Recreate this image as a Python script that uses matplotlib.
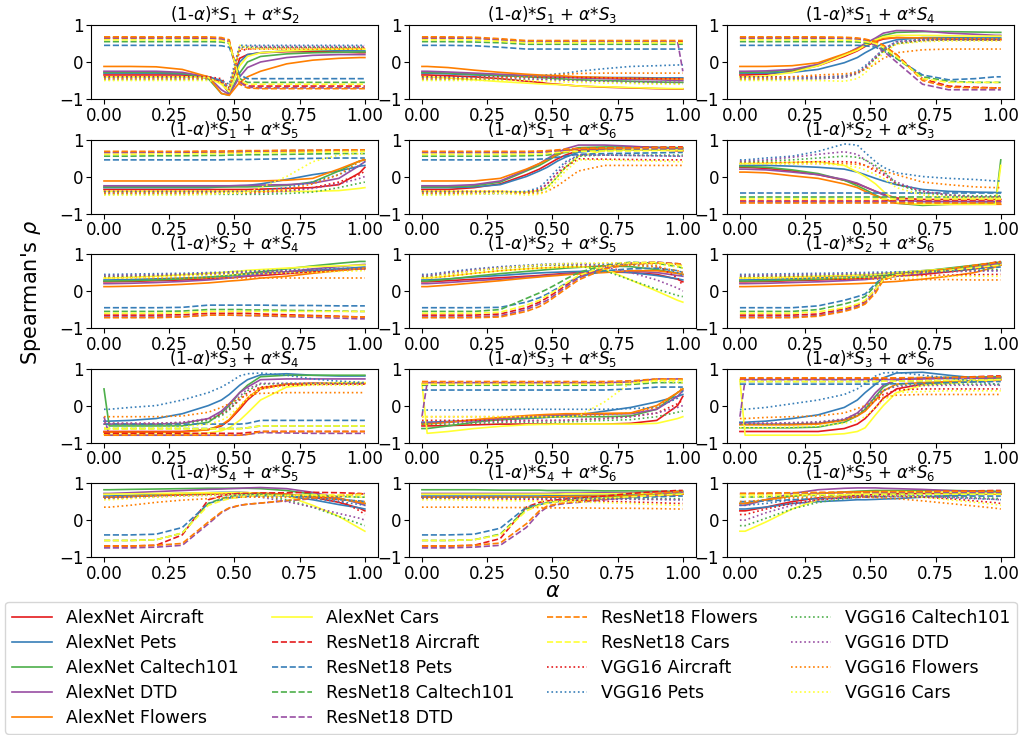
import numpy as np
import matplotlib.pyplot as plt

alpha = [0, 0.02, 0.1, 0.2, 0.3, 0.4, 0.45, 0.48, 0.52, 0.55, 0.6, 0.7, 0.8, 0.9, 0.98, 1.0]
models = ['AlexNet', 'ResNet18', 'VGG16']
datasets = ['Aircraft', 'Pets', 'Caltech101', 'DTD', 'Flowers', 'Cars']
pairs = [(1, 2), (1, 3), (1, 4), (1, 5), (1, 6), (2, 3), (2, 4), (2, 5),
         (2, 6), (3, 4), (3, 5), (3, 6), (4, 5), (4, 6), (5, 6)]

# Spearman's rho x100; rows: AlexNet x6, ResNet18 x6, VGG16 x6 (dataset order above)
s1_s2 = [
    [-35, -35, -35, -35, -35, -40, -55, -85, 10, 20, 25, 28, 28, 27, 25, 25],
    [-30, -30, -30, -30, -32, -40, -50, -85, 0, 20, 25, 30, 32, 31, 30, 30],
    [-28, -28, -28, -28, -30, -45, -85, -90, -30, 0, 15, 22, 25, 26, 27, 27],
    [-25, -25, -25, -25, -28, -40, -75, -88, -40, -15, 0, 12, 18, 20, 20, 20],
    [-12, -12, -12, -13, -20, -40, -85, -90, -55, -40, -25, -5, 5, 10, 12, 12],
    [-40, -40, -40, -40, -40, -42, -60, -80, -10, 15, 25, 30, 33, 35, 35, 35],
    [65, 65, 65, 65, 65, 64, 62, 55, -50, -65, -65, -65, -65, -65, -65, -65],
    [45, 45, 45, 45, 45, 45, 44, 40, -35, -45, -45, -45, -45, -45, -45, -45],
    [55, 55, 55, 55, 55, 55, 54, 50, -45, -55, -55, -55, -55, -55, -55, -55],
    [65, 65, 65, 65, 65, 65, 63, 55, -55, -68, -70, -70, -70, -70, -70, -70],
    [68, 68, 68, 68, 68, 68, 66, 60, -60, -70, -72, -72, -72, -72, -72, -72],
    [60, 60, 60, 60, 60, 60, 58, 52, -50, -60, -60, -60, -60, -60, -60, -60],
    [-40, -40, -40, -40, -40, -40, -45, -70, 30, 35, 38, 38, 38, 38, 38, 38],
    [-42, -42, -42, -42, -42, -45, -50, -60, 45, 45, 45, 45, 45, 45, 45, 45],
    [-48, -48, -48, -48, -48, -48, -50, -70, 40, 40, 40, 40, 40, 40, 40, 40],
    [-45, -45, -45, -45, -45, -45, -50, -75, 40, 42, 42, 42, 42, 42, 42, 42],
    [-45, -45, -45, -45, -45, -45, -55, -75, 35, 35, 35, 35, 35, 35, 35, 35],
    [-50, -50, -50, -50, -50, -50, -55, -80, 45, 40, 35, 35, 35, 35, 35, 35],
]
s1_s3 = [
    [-35, -35, -37, -40, -45, -52, -55, -58, -60, -62, -65, -68, -70, -72, -73, -73],
    [-30, -30, -32, -35, -37, -38, -39, -40, -40, -40, -41, -42, -42, -43, -43, -43],
    [-28, -28, -30, -33, -36, -40, -42, -43, -45, -46, -48, -50, -52, -54, -55, -55],
    [-25, -25, -27, -30, -33, -36, -38, -39, -40, -41, -43, -45, -47, -48, -50, -50],
    [-12, -12, -15, -22, -28, -33, -35, -36, -37, -38, -40, -42, -44, -45, -46, -46],
    [-40, -40, -43, -48, -53, -57, -59, -60, -61, -62, -65, -67, -69, -71, -72, -72],
    [65, 65, 65, 64, 60, 55, 55, 55, 55, 55, 55, 55, 55, 55, 55, 55],
    [45, 45, 45, 44, 40, 35, 35, 35, 35, 35, 35, 35, 35, 35, 35, 35],
    [55, 55, 55, 54, 52, 48, 48, 48, 48, 48, 48, 48, 48, 48, 48, 48],
    [65, 65, 65, 64, 60, 55, 55, 55, 55, 55, 55, 55, 55, 55, 55, -25],
    [68, 68, 68, 67, 63, 58, 58, 58, 58, 58, 58, 58, 58, 58, 58, 58],
    [60, 60, 60, 59, 56, 52, 52, 52, 52, 52, 52, 52, 52, 52, 52, 52],
    [-40, -40, -40, -40, -40, -41, -41, -42, -42, -42, -42, -43, -44, -45, -45, -45],
    [-42, -42, -42, -42, -42, -40, -38, -35, -32, -30, -25, -18, -12, -10, -8, -8],
    [-48, -48, -48, -48, -48, -48, -48, -48, -48, -49, -50, -52, -55, -57, -58, -58],
    [-45, -45, -45, -45, -45, -45, -46, -47, -48, -49, -50, -52, -53, -54, -55, -55],
    [-45, -45, -45, -45, -43, -40, -38, -36, -34, -33, -31, -30, -30, -30, -30, -30],
    [-50, -50, -50, -50, -50, -50, -51, -52, -53, -54, -55, -57, -58, -60, -60, -60],
]
s1_s4 = [
    [-35, -35, -33, -25, -10, 15, 30, 42, 55, 62, 66, 64, 62, 61, 60, 60],
    [-30, -30, -30, -28, -20, -2, 12, 25, 40, 50, 60, 66, 66, 65, 65, 65],
    [-28, -28, -27, -22, -8, 20, 35, 48, 62, 72, 80, 82, 82, 81, 80, 80],
    [-25, -25, -24, -20, -6, 20, 38, 50, 65, 78, 85, 84, 78, 75, 72, 72],
    [-12, -12, -12, -10, -2, 22, 35, 45, 58, 64, 66, 65, 63, 63, 62, 62],
    [-40, -40, -38, -28, -10, 18, 32, 45, 60, 68, 72, 72, 71, 70, 70, 70],
    [65, 65, 65, 65, 65, 64, 62, 60, 55, 45, 20, -45, -65, -68, -70, -70],
    [45, 45, 45, 45, 45, 45, 45, 44, 40, 30, 10, -35, -48, -45, -40, -40],
    [55, 55, 55, 55, 55, 55, 54, 52, 45, 35, 10, -40, -52, -55, -55, -55],
    [65, 65, 65, 65, 65, 64, 62, 58, 45, 30, 0, -60, -75, -75, -75, -75],
    [68, 68, 68, 68, 68, 67, 65, 62, 55, 45, 20, -50, -68, -70, -70, -70],
    [60, 60, 60, 60, 60, 59, 58, 55, 50, 40, 15, -45, -55, -55, -55, -55],
    [-40, -40, -40, -40, -40, -38, -30, -15, 10, 30, 50, 58, 60, 60, 60, 60],
    [-42, -42, -42, -42, -42, -38, -25, -10, 15, 35, 55, 62, 63, 63, 63, 63],
    [-48, -48, -48, -46, -45, -42, -32, -18, 10, 30, 50, 58, 60, 60, 60, 60],
    [-45, -45, -45, -45, -45, -42, -30, -15, 15, 35, 55, 60, 60, 60, 60, 60],
    [-45, -45, -45, -40, -35, -32, -28, -20, -5, 10, 25, 33, 35, 35, 35, 35],
    [-50, -50, -50, -50, -50, -52, -45, -30, 0, 25, 48, 55, 57, 57, 57, 57],
]
s1_s5 = [
    [-35, -35, -35, -35, -35, -35, -35, -35, -35, -35, -34, -32, -30, -22, 10, 25],
    [-30, -30, -30, -30, -30, -30, -28, -27, -25, -24, -20, -8, 5, 15, 28, 30],
    [-28, -28, -28, -28, -28, -28, -28, -28, -28, -28, -27, -24, -15, 15, 42, 45],
    [-25, -25, -25, -25, -25, -25, -25, -25, -24, -24, -23, -22, -18, -5, 30, 40],
    [-12, -12, -12, -12, -12, -12, -12, -12, -12, -12, -12, -10, -5, 20, 42, 45],
    [-40, -40, -40, -40, -40, -40, -40, -40, -40, -40, -40, -40, -40, -38, -32, -30],
    [65, 65, 65, 65, 65, 65, 65, 65, 65, 66, 66, 67, 68, 69, 70, 70],
    [45, 45, 45, 45, 45, 45, 45, 46, 46, 46, 47, 48, 49, 50, 50, 50],
    [55, 55, 55, 56, 56, 57, 57, 58, 58, 59, 59, 60, 61, 62, 62, 62],
    [65, 65, 65, 66, 66, 67, 67, 68, 68, 69, 69, 70, 71, 72, 72, 72],
    [68, 68, 68, 68, 68, 69, 69, 69, 70, 70, 70, 71, 71, 72, 72, 72],
    [60, 60, 60, 61, 61, 62, 62, 63, 63, 64, 64, 65, 66, 67, 68, 68],
    [-40, -40, -40, -40, -40, -40, -40, -40, -40, -40, -40, -38, -30, -15, 5, 15],
    [-42, -42, -42, -42, -42, -42, -42, -42, -42, -40, -38, -30, -15, 5, 30, 40],
    [-48, -48, -48, -48, -48, -48, -48, -48, -48, -48, -48, -46, -42, -30, -18, -15],
    [-45, -45, -45, -45, -45, -45, -45, -45, -45, -45, -44, -40, -32, -20, -5, 0],
    [-45, -45, -45, -45, -45, -45, -45, -45, -45, -44, -42, -35, -20, 5, 40, 50],
    [-50, -50, -50, -50, -50, -48, -46, -45, -45, -42, -30, 0, 40, 58, 62, 62],
]
s1_s6 = [
    [-35, -35, -35, -30, -20, 5, 20, 32, 48, 58, 70, 74, 73, 72, 70, 70],
    [-30, -30, -30, -28, -22, 0, 15, 25, 42, 52, 66, 72, 72, 72, 72, 72],
    [-28, -28, -28, -25, -15, 15, 30, 42, 58, 68, 78, 80, 80, 79, 78, 78],
    [-25, -25, -25, -22, -12, 18, 35, 48, 65, 75, 85, 85, 82, 78, 75, 75],
    [-12, -12, -12, -12, -5, 20, 35, 45, 60, 68, 75, 75, 73, 72, 70, 70],
    [-40, -40, -40, -40, -40, -42, -38, -30, 0, 25, 55, 70, 72, 72, 72, 72],
    [65, 65, 65, 65, 65, 65, 66, 67, 70, 72, 75, 77, 78, 79, 80, 80],
    [45, 45, 45, 45, 45, 46, 47, 48, 52, 55, 60, 62, 63, 64, 65, 65],
    [55, 55, 55, 55, 55, 56, 57, 58, 62, 65, 68, 70, 71, 72, 72, 72],
    [65, 65, 65, 65, 65, 65, 66, 67, 70, 72, 75, 75, 75, 75, 75, 75],
    [68, 68, 68, 68, 68, 68, 69, 70, 72, 74, 76, 77, 77, 78, 78, 78],
    [60, 60, 60, 60, 60, 60, 61, 62, 65, 67, 68, 69, 69, 70, 70, 70],
    [-40, -40, -40, -40, -40, -42, -35, -20, 10, 25, 48, 47, 46, 45, 45, 45],
    [-42, -42, -42, -42, -42, -40, -30, -10, 20, 40, 58, 58, 57, 56, 55, 55],
    [-48, -48, -48, -47, -46, -45, -40, -30, 0, 25, 55, 58, 58, 58, 58, 58],
    [-45, -45, -45, -45, -45, -44, -38, -20, 10, 35, 58, 58, 57, 56, 55, 55],
    [-45, -45, -45, -45, -45, -45, -45, -40, -25, -10, 15, 30, 30, 30, 30, 30],
    [-50, -50, -50, -48, -45, -50, -48, -40, -10, 15, 45, 45, 43, 42, 40, 40],
]
s2_s3 = [
    [25, 25, 22, 15, 5, -10, -20, -28, -40, -48, -58, -62, -62, -62, -62, -62],
    [30, 30, 30, 28, 25, 20, 12, 5, -5, -12, -22, -35, -40, -42, -43, -43],
    [27, 27, 25, 18, 8, -10, -25, -35, -50, -60, -72, -78, -75, -73, -72, 45],
    [20, 20, 18, 12, 5, -8, -18, -28, -40, -50, -62, -68, -68, -68, -68, -68],
    [12, 12, 10, 2, -5, -20, -30, -40, -52, -60, -72, -75, -75, -75, -75, -75],
    [35, 35, 36, 38, 40, 30, 12, 0, -20, -40, -70, -75, -75, -75, -75, 30],
    [-65, -65, -65, -65, -65, -65, -65, -65, -65, -65, -65, -65, -65, -65, -65, -65],
    [-45, -45, -45, -45, -45, -45, -45, -45, -45, -45, -45, -45, -45, -45, -45, -45],
    [-55, -55, -55, -55, -55, -55, -55, -55, -55, -55, -55, -55, -55, -55, -55, -55],
    [-70, -70, -70, -70, -70, -70, -70, -70, -70, -70, -70, -70, -70, -70, -70, -70],
    [-72, -72, -72, -72, -72, -72, -72, -72, -72, -72, -72, -72, -72, -72, -72, -72],
    [-60, -60, -60, -60, -60, -60, -60, -60, -60, -60, -60, -60, -60, -60, -60, -60],
    [38, 38, 38, 38, 40, 40, 38, 30, 15, 5, -20, -40, -50, -55, -55, -55],
    [45, 45, 50, 55, 68, 88, 85, 65, 40, 25, 10, 0, -5, -8, -12, -12],
    [40, 40, 42, 45, 50, 55, 52, 45, 30, 15, -20, -45, -50, -52, -52, -52],
    [42, 42, 45, 52, 60, 67, 60, 45, 25, 10, -15, -40, -50, -55, -55, -55],
    [35, 35, 35, 35, 35, 35, 33, 30, 20, 15, 5, -15, -22, -28, -30, -30],
    [35, 35, 35, 35, 35, 30, 25, 18, 5, -5, -30, -50, -55, -58, -58, -58],
]
s2_s4 = [
    [25, 25, 26, 28, 30, 33, 35, 36, 38, 40, 42, 47, 52, 56, 60, 60],
    [30, 30, 31, 33, 35, 38, 40, 41, 43, 45, 48, 52, 56, 60, 64, 65],
    [27, 27, 28, 30, 33, 37, 40, 42, 45, 48, 52, 60, 68, 75, 80, 80],
    [20, 20, 21, 23, 26, 30, 33, 35, 38, 41, 45, 52, 60, 66, 71, 72],
    [12, 12, 13, 15, 18, 22, 25, 27, 29, 31, 35, 40, 48, 55, 61, 62],
    [35, 35, 37, 40, 44, 48, 50, 52, 54, 56, 58, 62, 66, 68, 70, 70],
    [-65, -65, -65, -65, -64, -60, -60, -60, -60, -60, -62, -64, -66, -68, -70, -70],
    [-45, -45, -45, -45, -44, -38, -38, -38, -38, -38, -38, -39, -39, -40, -40, -40],
    [-55, -55, -55, -55, -54, -50, -50, -50, -50, -51, -51, -52, -53, -54, -55, -55],
    [-70, -70, -70, -70, -69, -65, -65, -65, -66, -66, -67, -69, -71, -73, -75, -75],
    [-72, -72, -72, -72, -70, -65, -65, -65, -65, -66, -66, -67, -68, -69, -70, -70],
    [-60, -60, -60, -60, -59, -55, -55, -55, -55, -55, -55, -55, -55, -55, -55, -55],
    [38, 38, 38, 40, 42, 44, 45, 46, 47, 48, 50, 52, 54, 56, 58, 58],
    [45, 45, 46, 47, 48, 50, 51, 52, 53, 54, 55, 57, 59, 61, 62, 62],
    [40, 40, 41, 43, 45, 47, 48, 49, 50, 51, 53, 55, 57, 59, 60, 60],
    [42, 42, 43, 44, 46, 48, 49, 50, 51, 52, 53, 55, 57, 59, 60, 60],
    [35, 35, 35, 35, 35, 35, 35, 35, 35, 35, 35, 35, 35, 35, 35, 35],
    [35, 35, 36, 38, 40, 42, 43, 44, 45, 46, 47, 49, 51, 53, 55, 55],
]
s2_s5 = [
    [25, 25, 28, 32, 36, 40, 42, 44, 46, 48, 50, 52, 50, 45, 32, 25],
    [30, 30, 33, 38, 42, 47, 49, 50, 51, 52, 53, 55, 50, 42, 33, 30],
    [27, 27, 32, 40, 47, 53, 56, 58, 60, 62, 64, 68, 66, 58, 48, 45],
    [20, 20, 23, 28, 32, 38, 40, 42, 44, 46, 48, 52, 54, 50, 42, 40],
    [12, 12, 16, 22, 28, 35, 38, 40, 42, 44, 46, 50, 55, 55, 48, 45],
    [35, 35, 40, 48, 55, 60, 62, 63, 64, 65, 66, 60, 30, 0, -25, -30],
    [-65, -65, -65, -65, -62, -45, -30, -18, 0, 15, 40, 65, 75, 78, 72, 70],
    [-45, -45, -45, -45, -44, -30, -18, -8, 8, 20, 38, 55, 60, 62, 55, 50],
    [-55, -55, -55, -55, -50, -20, -5, 5, 20, 32, 50, 70, 78, 75, 66, 62],
    [-70, -70, -70, -70, -67, -50, -35, -25, -5, 10, 35, 62, 75, 78, 74, 72],
    [-72, -72, -72, -72, -70, -55, -42, -30, -10, 5, 30, 60, 72, 76, 74, 72],
    [-60, -60, -60, -60, -57, -38, -25, -12, 5, 20, 42, 66, 76, 78, 70, 68],
    [38, 38, 45, 55, 62, 68, 70, 71, 72, 72, 73, 74, 75, 70, 35, 15],
    [45, 45, 52, 60, 66, 70, 72, 73, 74, 74, 74, 73, 72, 65, 50, 40],
    [40, 40, 48, 56, 62, 66, 68, 70, 70, 70, 68, 55, 30, 5, -12, -15],
    [42, 42, 50, 58, 64, 68, 70, 71, 72, 72, 72, 66, 50, 30, 8, 0],
    [35, 35, 40, 48, 55, 60, 62, 63, 64, 65, 66, 68, 70, 65, 55, 50],
    [35, 35, 45, 55, 62, 68, 70, 72, 73, 74, 75, 76, 76, 72, 65, 62],
]
s2_s6 = [
    [25, 25, 26, 28, 30, 32, 33, 34, 36, 38, 40, 45, 52, 60, 68, 70],
    [30, 30, 31, 33, 36, 40, 42, 43, 45, 47, 50, 55, 60, 66, 71, 72],
    [27, 27, 28, 30, 32, 35, 37, 38, 40, 42, 46, 54, 62, 70, 77, 78],
    [20, 20, 21, 23, 25, 28, 30, 31, 34, 36, 40, 48, 56, 64, 73, 75],
    [12, 12, 13, 15, 17, 19, 20, 21, 22, 24, 26, 32, 40, 50, 65, 70],
    [35, 35, 36, 38, 40, 42, 43, 44, 45, 47, 50, 55, 60, 65, 70, 72],
    [-65, -65, -65, -65, -62, -48, -38, -28, 5, 35, 45, 52, 58, 68, 78, 80],
    [-45, -45, -45, -45, -40, -25, -15, -8, 20, 38, 45, 50, 55, 60, 64, 65],
    [-55, -55, -55, -55, -50, -35, -25, -15, 15, 38, 46, 52, 58, 66, 71, 72],
    [-70, -70, -70, -70, -66, -52, -42, -32, 0, 30, 42, 50, 56, 64, 73, 75],
    [-72, -72, -72, -72, -68, -55, -45, -35, -5, 30, 44, 52, 60, 70, 77, 78],
    [-60, -60, -60, -60, -56, -45, -35, -25, 5, 32, 44, 50, 56, 63, 69, 70],
    [38, 38, 38, 38, 38, 39, 39, 40, 40, 40, 41, 42, 43, 44, 45, 45],
    [45, 45, 46, 47, 48, 49, 50, 50, 51, 51, 52, 53, 54, 55, 55, 55],
    [40, 40, 41, 42, 43, 45, 46, 46, 47, 48, 49, 51, 53, 56, 58, 58],
    [42, 42, 43, 44, 45, 46, 47, 47, 48, 48, 49, 50, 52, 54, 55, 55],
    [35, 35, 35, 34, 34, 33, 33, 33, 32, 32, 32, 31, 31, 30, 30, 30],
    [35, 35, 36, 36, 37, 37, 38, 38, 38, 38, 39, 39, 40, 40, 40, 40],
]
s3_s4 = [
    [-70, -70, -70, -70, -70, -65, -55, -40, -10, 15, 45, 58, 60, 60, 60, 60],
    [-42, -42, -40, -35, -22, 0, 15, 30, 55, 70, 83, 86, 82, 80, 80, 80],
    [45, -55, -55, -55, -55, -45, -20, 0, 35, 55, 78, 82, 82, 82, 82, 82],
    [-50, -50, -50, -50, -48, -35, -15, 5, 35, 50, 70, 72, 72, 72, 72, 72],
    [-72, -72, -72, -72, -72, -65, -52, -38, -5, 20, 48, 58, 60, 60, 60, 60],
    [-78, -78, -78, -78, -78, -74, -68, -60, -40, -20, 15, 50, 58, 62, 62, 62],
    [-75, -75, -75, -75, -75, -75, -75, -75, -75, -73, -70, -70, -70, -70, -70, -70],
    [-50, -50, -50, -50, -50, -50, -50, -50, -50, -48, -40, -40, -40, -40, -40, -40],
    [-62, -62, -62, -62, -62, -62, -62, -62, -62, -60, -55, -55, -55, -55, -55, -55],
    [-30, -80, -80, -80, -80, -80, -80, -80, -80, -78, -73, -74, -75, -75, -75, -75],
    [-80, -80, -80, -80, -80, -80, -80, -80, -80, -78, -70, -70, -70, -70, -70, -70],
    [-63, -63, -63, -63, -63, -63, -63, -63, -63, -60, -55, -55, -55, -55, -55, -55],
    [-48, -48, -48, -48, -46, -38, -25, -10, 15, 35, 50, 55, 57, 58, 58, 58],
    [-10, -10, -5, 0, 15, 35, 50, 62, 80, 86, 88, 82, 72, 66, 63, 62],
    [-50, -50, -50, -50, -48, -40, -28, -12, 20, 40, 58, 60, 60, 60, 60, 60],
    [-48, -48, -48, -48, -45, -35, -20, -5, 25, 45, 60, 60, 60, 60, 60, 60],
    [-30, -30, -30, -30, -28, -18, -5, 5, 20, 28, 33, 35, 35, 35, 35, 35],
    [-60, -60, -60, -60, -58, -50, -40, -28, 0, 20, 45, 52, 55, 55, 55, 55],
]
s3_s5 = [
    [-55, -55, -54, -52, -50, -50, -50, -50, -50, -50, -50, -50, -48, -40, 0, 25],
    [-45, -45, -43, -40, -38, -35, -33, -32, -30, -28, -25, -15, -5, 10, 25, 30],
    [-62, -62, -55, -45, -38, -33, -32, -31, -30, -30, -30, -30, -28, -10, 35, 45],
    [-48, -48, -45, -40, -35, -30, -28, -27, -26, -25, -24, -23, -22, -10, 25, 40],
    [-50, -50, -45, -38, -32, -27, -25, -24, -23, -22, -22, -21, -20, 0, 35, 45],
    [60, -75, -70, -62, -56, -52, -51, -51, -50, -50, -50, -50, -50, -48, -35, -30],
    [60, 60, 60, 60, 60, 60, 60, 60, 60, 60, 60, 60, 62, 70, 70, 70],
    [42, 42, 42, 42, 42, 42, 42, 42, 42, 42, 42, 42, 45, 50, 50, 50],
    [55, 55, 55, 55, 55, 55, 55, 55, 55, 55, 55, 55, 57, 62, 62, 62],
    [-30, 62, 62, 62, 62, 62, 62, 62, 62, 62, 62, 62, 64, 72, 72, 72],
    [65, 65, 65, 65, 65, 65, 65, 65, 65, 65, 65, 65, 67, 72, 72, 72],
    [58, 58, 58, 58, 58, 58, 58, 58, 58, 58, 58, 58, 60, 68, 68, 68],
    [-40, -40, -40, -40, -40, -40, -40, -40, -40, -40, -38, -35, -30, -20, 5, 15],
    [-12, -12, -12, -11, -11, -10, -10, -10, -10, -10, -10, -10, -8, -5, 20, 40],
    [-50, -50, -50, -48, -46, -45, -45, -45, -45, -44, -43, -40, -38, -30, -18, -15],
    [-45, -45, -45, -44, -43, -42, -41, -41, -40, -40, -38, -35, -30, -20, -5, 0],
    [-30, -30, -30, -30, -30, -30, -30, -30, -30, -30, -28, -25, -20, -5, 35, 50],
    [-30, -30, -30, -30, -30, -30, -30, -30, -30, -30, -28, 10, 62, 66, 63, 62],
]
s3_s6 = [
    [-70, -70, -70, -70, -70, -62, -50, -35, -5, 20, 45, 58, 62, 65, 68, 70],
    [-45, -45, -42, -35, -25, -5, 15, 35, 58, 75, 88, 90, 82, 75, 72, 72],
    [-60, -60, -60, -60, -58, -45, -28, -10, 25, 50, 70, 75, 76, 77, 78, 78],
    [-50, -50, -50, -50, -48, -38, -20, 0, 35, 55, 70, 74, 75, 75, 75, 75],
    [-52, -52, -52, -52, -50, -40, -28, -15, 15, 40, 58, 62, 65, 67, 69, 70],
    [70, -80, -80, -80, -80, -76, -70, -60, -25, 0, 35, 55, 60, 65, 70, 72],
    [72, 72, 72, 72, 72, 72, 72, 72, 72, 72, 72, 72, 75, 78, 80, 80],
    [58, 58, 58, 58, 58, 58, 58, 58, 58, 58, 59, 60, 62, 64, 65, 65],
    [65, 65, 65, 65, 65, 65, 65, 65, 65, 66, 66, 67, 68, 70, 72, 72],
    [-30, 70, 70, 70, 70, 70, 70, 70, 70, 70, 71, 72, 73, 74, 75, 75],
    [75, 75, 75, 75, 75, 75, 75, 75, 75, 75, 75, 76, 76, 77, 78, 78],
    [65, 65, 65, 65, 65, 65, 65, 65, 65, 66, 66, 67, 68, 69, 70, 70],
    [-48, -48, -48, -48, -46, -38, -25, -10, 15, 30, 42, 45, 45, 45, 45, 45],
    [-10, -10, -5, 5, 15, 30, 45, 60, 80, 88, 90, 82, 75, 65, 58, 55],
    [-50, -50, -50, -48, -45, -38, -25, -10, 20, 40, 55, 57, 58, 58, 58, 58],
    [-48, -48, -48, -46, -44, -36, -22, -5, 25, 42, 52, 54, 55, 55, 55, 55],
    [-35, -35, -32, -30, -28, -20, -8, 0, 15, 22, 28, 30, 30, 30, 30, 30],
    [-60, -60, -60, -58, -55, -48, -40, -30, -5, 15, 35, 38, 40, 40, 40, 40],
]
s4_s5 = [
    [62, 62, 64, 66, 68, 70, 71, 72, 72, 72, 72, 70, 62, 48, 32, 25],
    [65, 65, 67, 70, 72, 74, 75, 75, 75, 74, 72, 65, 55, 42, 33, 30],
    [82, 82, 83, 84, 85, 86, 86, 86, 86, 86, 85, 80, 70, 58, 48, 45],
    [72, 72, 74, 77, 80, 83, 84, 85, 86, 87, 88, 85, 75, 60, 45, 40],
    [62, 62, 64, 67, 70, 72, 73, 74, 74, 74, 73, 70, 65, 58, 48, 45],
    [70, 70, 71, 72, 73, 74, 74, 74, 74, 74, 72, 65, 40, 10, -22, -30],
    [-70, -70, -70, -68, -40, 55, 65, 70, 72, 72, 73, 74, 75, 74, 72, 70],
    [-40, -40, -40, -38, -20, 45, 55, 60, 62, 64, 66, 66, 62, 55, 52, 50],
    [-55, -55, -55, -53, -35, 45, 58, 64, 68, 69, 70, 68, 66, 64, 62, 62],
    [-75, -75, -75, -73, -68, -10, 20, 32, 40, 43, 46, 52, 58, 65, 70, 72],
    [-70, -70, -70, -68, -63, -5, 22, 33, 40, 43, 46, 53, 60, 66, 71, 72],
    [-55, -55, -55, -53, -35, 40, 52, 58, 62, 64, 66, 67, 68, 68, 68, 68],
    [58, 58, 60, 63, 66, 68, 69, 70, 70, 70, 70, 68, 64, 55, 25, 15],
    [62, 62, 63, 65, 67, 68, 68, 69, 69, 69, 68, 65, 58, 50, 42, 40],
    [60, 60, 62, 65, 67, 68, 68, 68, 68, 68, 66, 55, 35, 10, -10, -15],
    [60, 60, 62, 64, 66, 67, 67, 67, 67, 66, 62, 50, 35, 18, 5, 0],
    [35, 35, 40, 48, 54, 58, 60, 61, 62, 62, 62, 62, 60, 56, 51, 50],
    [55, 55, 58, 62, 65, 67, 68, 68, 68, 68, 68, 67, 66, 64, 62, 62],
]
s4_s6 = [
    [62, 62, 62, 62, 62, 62, 62, 62, 62, 63, 63, 64, 65, 66, 68, 70],
    [65, 65, 65, 65, 65, 65, 65, 66, 66, 66, 67, 68, 69, 70, 71, 72],
    [82, 82, 82, 82, 81, 81, 81, 80, 80, 80, 80, 79, 79, 78, 78, 78],
    [72, 72, 72, 72, 72, 72, 72, 72, 73, 73, 73, 74, 74, 75, 75, 75],
    [62, 62, 62, 62, 62, 62, 62, 63, 63, 64, 64, 65, 66, 67, 69, 70],
    [70, 70, 70, 70, 70, 70, 70, 70, 70, 71, 71, 71, 72, 72, 72, 72],
    [-70, -70, -70, -68, -50, 35, 48, 52, 55, 57, 60, 65, 72, 77, 80, 80],
    [-40, -40, -40, -38, -22, 35, 42, 46, 50, 52, 54, 57, 60, 63, 65, 65],
    [-55, -55, -55, -53, -38, 30, 42, 47, 51, 53, 56, 60, 65, 69, 72, 72],
    [-75, -75, -75, -73, -68, -20, 20, 35, 42, 45, 48, 55, 62, 70, 75, 75],
    [-70, -70, -70, -68, -62, -10, 25, 38, 44, 47, 50, 57, 65, 72, 77, 78],
    [-55, -55, -55, -53, -40, 25, 40, 45, 50, 52, 55, 59, 63, 67, 70, 70],
    [58, 58, 58, 58, 57, 56, 55, 55, 54, 54, 53, 51, 49, 47, 45, 45],
    [62, 62, 62, 62, 61, 61, 60, 60, 60, 60, 59, 58, 57, 56, 55, 55],
    [60, 60, 60, 60, 60, 60, 60, 60, 60, 59, 59, 59, 58, 58, 58, 58],
    [60, 60, 60, 60, 59, 59, 58, 58, 58, 58, 57, 57, 56, 56, 55, 55],
    [35, 35, 35, 35, 34, 34, 34, 33, 33, 33, 33, 32, 32, 31, 30, 30],
    [55, 55, 55, 54, 53, 52, 51, 51, 50, 50, 49, 47, 45, 42, 40, 40],
]
s5_s6 = [
    [25, 25, 35, 50, 60, 65, 67, 68, 69, 70, 71, 72, 72, 71, 70, 70],
    [30, 30, 35, 45, 50, 53, 55, 55, 56, 57, 58, 62, 66, 69, 71, 72],
    [45, 45, 55, 65, 72, 76, 78, 79, 80, 80, 80, 80, 80, 79, 78, 78],
    [40, 40, 55, 72, 82, 86, 87, 87, 87, 86, 85, 83, 80, 77, 75, 75],
    [45, 45, 55, 65, 72, 75, 76, 77, 77, 77, 77, 76, 74, 72, 70, 70],
    [-30, -30, -5, 30, 55, 68, 72, 74, 75, 76, 76, 76, 75, 73, 72, 72],
    [70, 70, 71, 72, 73, 74, 75, 75, 76, 76, 76, 77, 78, 79, 80, 80],
    [50, 50, 52, 55, 58, 60, 61, 62, 63, 63, 64, 64, 65, 65, 65, 65],
    [62, 62, 63, 65, 67, 68, 69, 69, 70, 70, 70, 71, 71, 72, 72, 72],
    [72, 72, 72, 73, 73, 74, 74, 74, 74, 75, 75, 75, 75, 75, 75, 75],
    [72, 72, 73, 74, 75, 76, 76, 76, 77, 77, 77, 77, 78, 78, 78, 78],
    [68, 68, 68, 69, 69, 69, 70, 70, 70, 70, 70, 70, 70, 70, 70, 70],
    [15, 15, 30, 45, 55, 60, 62, 63, 63, 64, 64, 62, 58, 52, 47, 45],
    [40, 40, 45, 55, 60, 63, 64, 65, 65, 65, 65, 63, 60, 58, 56, 55],
    [-15, -15, 5, 30, 48, 58, 62, 64, 65, 66, 67, 66, 64, 61, 59, 58],
    [0, 0, 20, 40, 55, 62, 64, 65, 66, 66, 66, 64, 62, 59, 56, 55],
    [50, 50, 55, 60, 62, 62, 62, 62, 61, 60, 58, 52, 45, 38, 32, 30],
    [62, 62, 64, 66, 68, 68, 68, 68, 68, 67, 66, 62, 55, 48, 42, 40],
]

panels = [s1_s2, s1_s3, s1_s4, s1_s5, s1_s6, s2_s3, s2_s4, s2_s5,
          s2_s6, s3_s4, s3_s5, s3_s6, s4_s5, s4_s6, s5_s6]

colors = ['#e41a1c', '#377eb8', '#4daf4a', '#984ea3', '#ff7f00', '#ffff33']
styles = ['-', '--', ':']

fig, axes = plt.subplots(5, 3, figsize=(10.22, 7.35), dpi=100)
fig.subplots_adjust(left=0.089, right=0.992, top=0.966, bottom=0.242,
                    wspace=0.108, hspace=0.547)

for ax, data, (a, b) in zip(axes.flat, panels, pairs):
    for k, row in enumerate(data):
        m, d = divmod(k, 6)
        ax.plot(alpha, np.array(row) / 100, color=colors[d], ls=styles[m],
                lw=1.2, label=f'{models[m]} {datasets[d]}')
    ax.set_ylim(-1, 1)
    ax.set_xlim(-0.05, 1.05)
    ax.set_yticks([-1, 0, 1])
    ax.set_xticks([0, 0.25, 0.5, 0.75, 1.0])
    ax.xaxis.set_major_formatter('{x:.2f}')
    ax.tick_params(labelsize=12, pad=2)
    ax.set_title(rf'(1-$\alpha$)*$S_{a}$ + $\alpha$*$S_{b}$', fontsize=12, pad=2)

fig.text(0.03, 1 - 292 / 735, "Spearman's $\\rho$", rotation=90,
         ha='center', va='center', fontsize=15)
fig.text(553 / 1022, 1 - 591 / 735, r'$\alpha$', ha='center', va='center', fontsize=15)

handles, labels = axes[0, 0].get_legend_handles_labels()
fig.legend(handles, labels, loc='lower left', bbox_to_anchor=(0.005, 0.002, 0.99, 0.178),
           mode='expand', ncol=4, fontsize=12.5, handlelength=2.3, labelspacing=0.4,
           borderaxespad=0)

fig.savefig('out.png', dpi=100)
